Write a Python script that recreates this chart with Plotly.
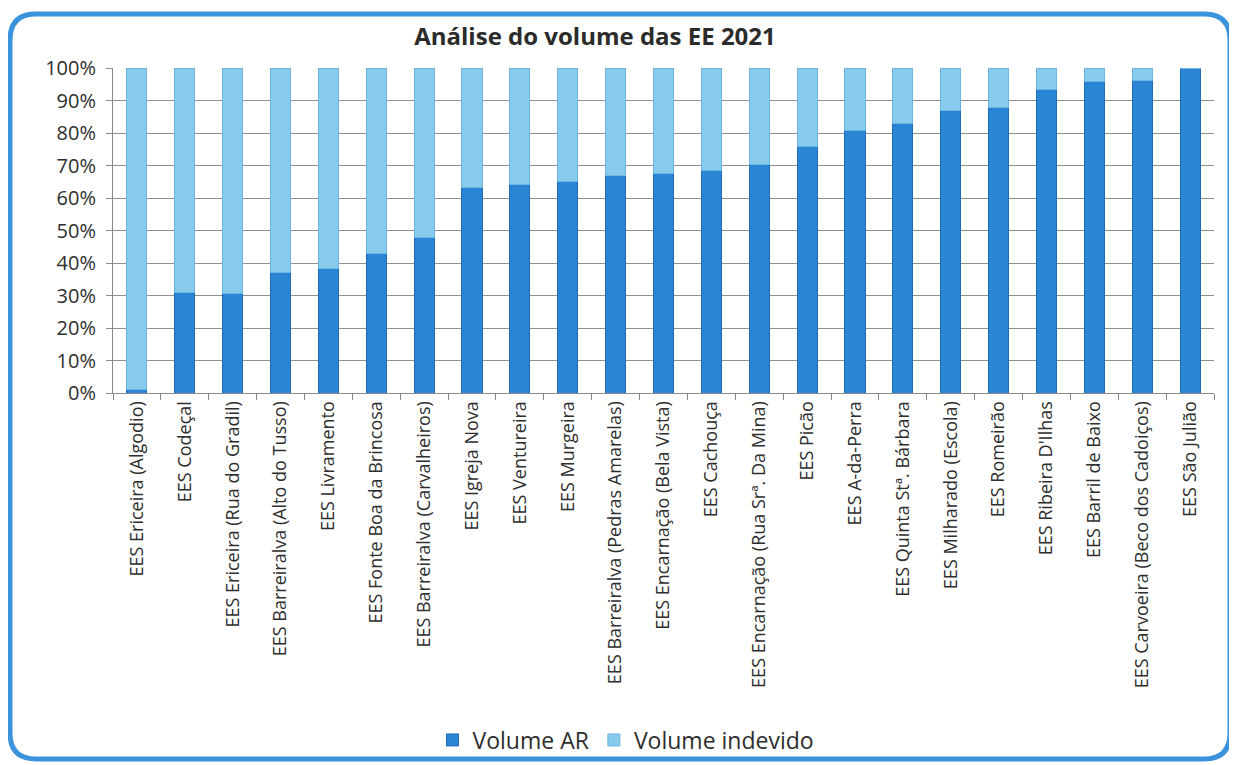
import plotly.graph_objects as go

categories = [
    "EES Ericeira (Algodio)", "EES Codeçal", "EES Ericeira (Rua do Gradil)",
    "EES Barreiralva (Alto do Tusso)", "EES Livramento", "EES Fonte Boa da Brincosa",
    "EES Barreiralva (Carvalheiros)", "EES Igreja Nova", "EES Ventureira", "EES Murgeira",
    "EES Barreiralva (Pedras Amarelas)", "EES Encarnação (Bela Vista)", "EES Cachouça",
    "EES Encarnação (Rua Srª. Da Mina)", "EES Picão", "EES A-da-Perra",
    "EES Quinta Stª. Bárbara", "EES Milharado (Escola)", "EES Romeirão",
    "EES Ribeira D'Ilhas", "EES Barril de Baixo", "EES Carvoeira (Beco dos Cadoiços)",
    "EES São Julião",
]
volume_ar = [1.0, 30.8, 30.6, 37.0, 38.4, 43.0, 47.8, 63.3, 64.3, 65.2, 66.9, 67.4, 68.6,
             70.2, 75.7, 80.9, 83.0, 87.0, 87.8, 93.5, 95.8, 96.3, 99.7]
volume_indevido = [99.0, 69.2, 69.4, 63.0, 61.6, 57.0, 52.2, 36.7, 35.7, 34.8, 33.1, 32.6, 31.4,
                   29.8, 24.3, 19.1, 17.0, 13.0, 12.2, 6.5, 4.2, 3.7, 0.3]
y_ticks = [0, 10, 20, 30, 40, 50, 60, 70, 80, 90, 100]
y_tick_labels = ["0%", "10%", "20%", "30%", "40%", "50%", "60%", "70%", "80%", "90%", "100%"]

FONT = "Open Sans"
OFF = 8  # page body margin
W, H = 1237 - OFF, 765 - OFF
# plot area in window pixels: x 113..1214, y 68..393
L, R, T, B = 113 - OFF, 1237 - 1214, 68 - OFF, 765 - 393
PW, PH = W - L - R, H - T - B


def px(x):
    return (x - OFF - L) / PW


def py(y):
    return (H - B - (y - OFF)) / PH


fig = go.Figure()
fig.add_trace(go.Bar(
    x=categories, y=volume_ar, name="Volume AR",
    marker=dict(color="#2A84D4", line=dict(color="#1E6DB8", width=1)),
))
fig.add_trace(go.Bar(
    x=categories, y=volume_indevido, name="Volume indevido",
    marker=dict(color="#87CAEC", line=dict(color="#6AB6E0", width=1)),
))

# rounded border around the whole chart (window pixel coords)
x0, x1, y0, y1, r = 10, 1230, 14, 759, 26
path = (
    f"M {px(x0 + r)} {py(y0)} L {px(x1 - r)} {py(y0)} "
    f"Q {px(x1)} {py(y0)} {px(x1)} {py(y0 + r)} "
    f"L {px(x1)} {py(y1 - r)} Q {px(x1)} {py(y1)} {px(x1 - r)} {py(y1)} "
    f"L {px(x0 + r)} {py(y1)} Q {px(x0)} {py(y1)} {px(x0)} {py(y1 - r)} "
    f"L {px(x0)} {py(y0 + r)} Q {px(x0)} {py(y0)} {px(x0 + r)} {py(y0)} Z"
)

fig.update_layout(
    width=W, height=H,
    barmode="stack", bargap=0.58,
    plot_bgcolor="white", paper_bgcolor="white",
    margin=dict(l=L, r=R, t=T, b=B, autoexpand=False),
    font=dict(family=FONT, color="#2e2e2e"),
    title=dict(text="<b>Análise do volume das EE 2021</b>", x=(595 - OFF) / W, xref="container",
               xanchor="center", y=1 - (37 - OFF) / H, yanchor="middle",
               font=dict(family=FONT, size=24, color="#2b2b2b")),
    xaxis=dict(tickangle=-90, tickfont=dict(size=18, color="#2e2e2e"),
               showline=True, linecolor="#8a8a8a", linewidth=1,
               ticks="outside", tickson="boundaries", ticklen=6, tickcolor="#8a8a8a",
               showgrid=False, fixedrange=True),
    yaxis=dict(range=[0, 100], tickmode="array", tickvals=y_ticks, ticktext=y_tick_labels,
               tickfont=dict(size=20, color="#2e2e2e"), ticklabelstandoff=6,
               showline=True, linecolor="#8a8a8a", linewidth=1,
               ticks="outside", ticklen=6, tickcolor="#8a8a8a",
               showgrid=True, gridcolor="#8f8f8f", gridwidth=1, zeroline=False),
    legend=dict(orientation="h", x=px(626), xanchor="center",
                y=py(740), yanchor="middle", font=dict(size=23, color="#2e2e2e"),
                bgcolor="rgba(0,0,0,0)", traceorder="normal", itemwidth=30),
    shapes=[dict(type="path", xref="paper", yref="paper", path=path,
                 line=dict(color="#3B93DB", width=5), layer="above")],
)

fig.write_html("out.html")
